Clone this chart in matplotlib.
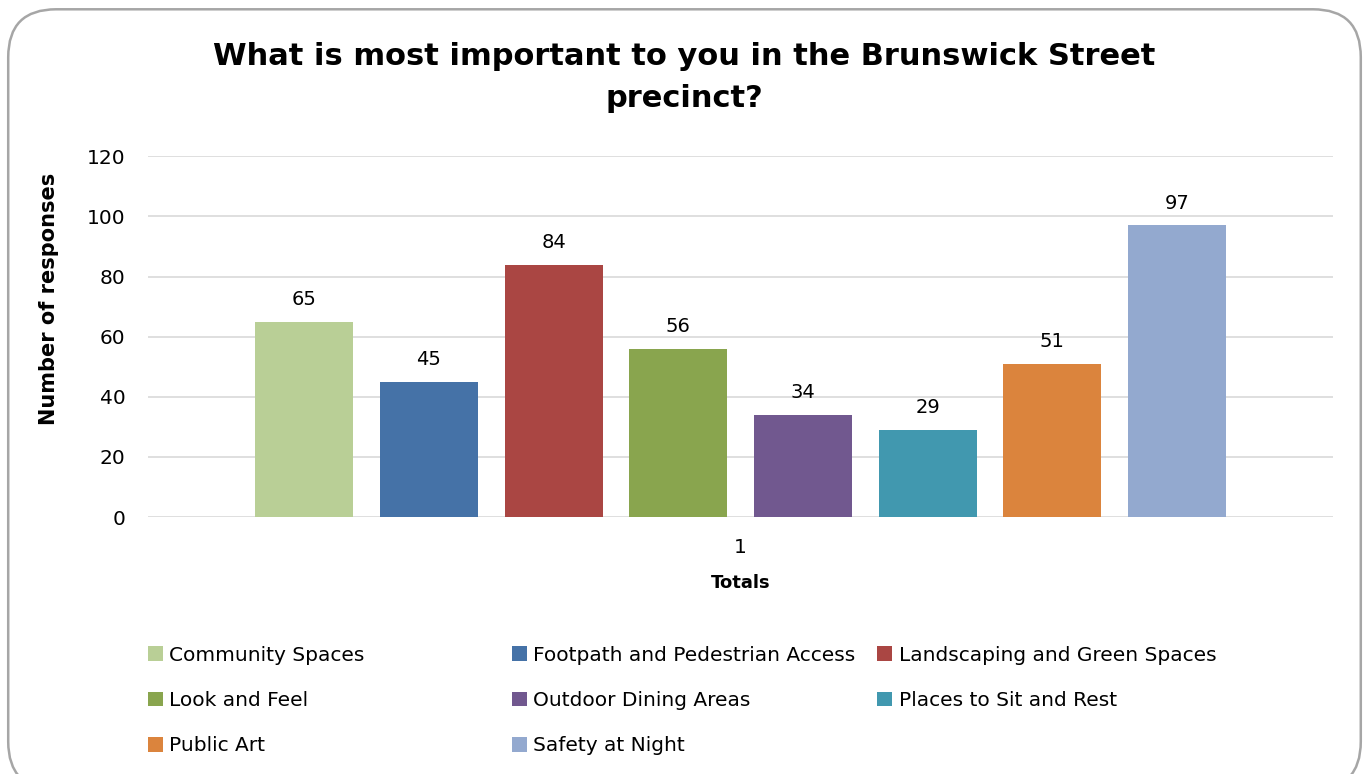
import numpy as np
import matplotlib
matplotlib.use("Agg")
import matplotlib.pyplot as plt
from matplotlib.patches import FancyBboxPatch, Patch

# Chart data
categories = ["Community Spaces", "Footpath and Pedestrian Access",
              "Landscaping and Green Spaces", "Look and Feel",
              "Outdoor Dining Areas", "Places to Sit and Rest",
              "Public Art", "Safety at Night"]
values = [65, 45, 84, 56, 34, 29, 51, 97]
colors = ["#b9cf96", "#4572a7", "#aa4643", "#89a54e",
          "#71588f", "#4198af", "#db843d", "#93a9cf"]
group_label = "1"
y_ticks = [0, 20, 40, 60, 80, 100, 120]

plt.rcParams['font.family'] = ['DejaVu Sans']

fig = plt.figure(figsize=(13.69, 7.74), dpi=100)

# rounded border round the chart
border = FancyBboxPatch((0.006, -0.02), 0.988, 1.008,
                        boxstyle="round,pad=0,rounding_size=0.035",
                        transform=fig.transFigure, facecolor="none",
                        edgecolor="#a6a6a6", linewidth=1.8,
                        mutation_aspect=1369 / 774, zorder=-1)
fig.patches.append(border)

ax = fig.add_axes([0.108, 0.332, 0.866, 0.466])
ax.set_facecolor("none")

step = 0.1052
width = 0.0827
n = len(values)
pos = 1 + (np.arange(n) - (n - 1) / 2) * step
bars = ax.bar(pos, values, width=width, color=colors, zorder=3)

for b, v in zip(bars, values):
    ax.annotate(str(v), (b.get_x() + b.get_width() / 2, v),
                xytext=(0, 9), textcoords="offset points",
                ha="center", va="bottom", fontsize=14)

ax.set_xlim(0.5, 1.5)
ax.set_ylim(0, 120)
ax.set_yticks(y_ticks)
ax.set_xticks([1])
ax.set_xticklabels([group_label])
ax.tick_params(axis="both", length=0, labelsize=14.5, pad=16)
ax.tick_params(axis="x", pad=15)
ax.grid(axis="y", color="#d9d9d9", linewidth=1.2, zorder=0)
for s in ax.spines.values():
    s.set_visible(False)

ax.set_xlabel("Totals", fontsize=13, fontweight="bold", labelpad=12)
ax.set_ylabel("Number of responses", fontsize=15, fontweight="bold")
ax.yaxis.set_label_coords(-0.075, 0.604)

fig.text(0.5, 0.9, "What is most important to you in the Brunswick Street\nprecinct?",
         ha="center", va="center", fontsize=22, fontweight="bold",
         linespacing=1.55)

# legend in three columns, placed one column at a time
order = [[0, 3, 6], [1, 4, 7], [2, 5]]
col_x = [0.102, 0.368, 0.635]
for cx, idx in zip(col_x, order):
    handles = [Patch(facecolor=colors[i], label=categories[i]) for i in idx]
    fig.legend(handles=handles, loc="upper left", bbox_to_anchor=(cx, 0.176),
               frameon=False, fontsize=14.5, handlelength=0.75, handleheight=0.75,
               handletextpad=0.3, labelspacing=1.3, borderaxespad=0)

fig.savefig("out.png", dpi=100)
